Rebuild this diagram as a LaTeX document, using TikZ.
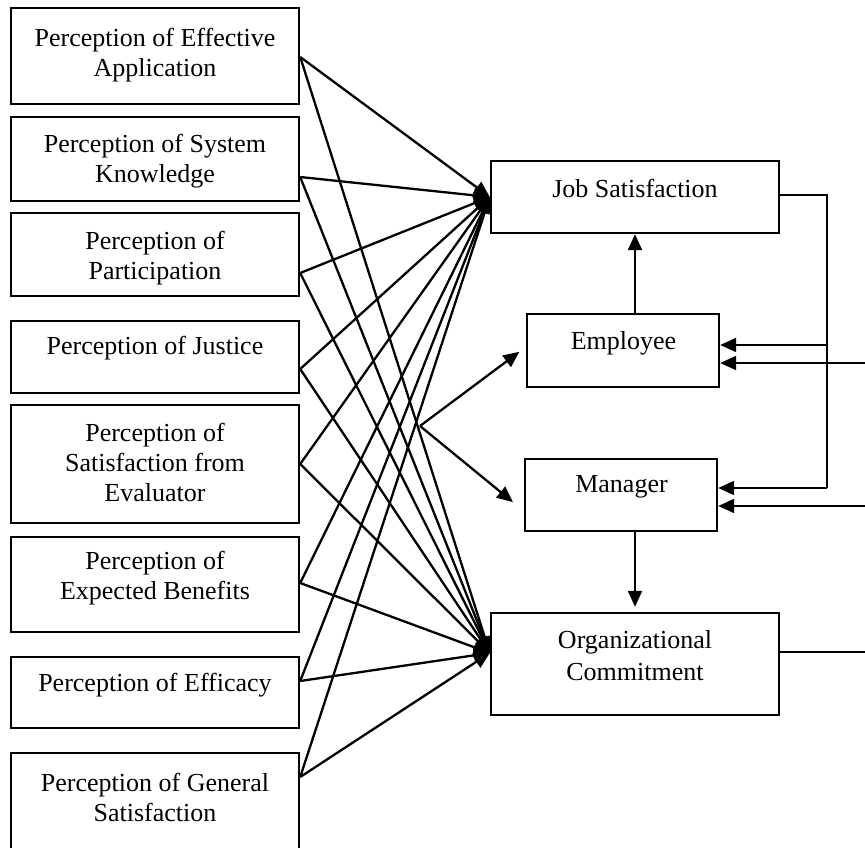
\documentclass[tikz,border=0pt]{standalone}
\usepackage{fontspec}
\setmainfont{Liberation Serif}
\usetikzlibrary{arrows.meta}

\tikzset{
  box/.style={draw, line width=2.4pt, inner sep=0pt},
  link/.style={line width=2.3pt, -{Triangle[length=16pt,width=14pt]}},
  feed/.style={line width=1.8pt},
  feedarrow/.style={line width=2pt, -{Triangle[length=16pt,width=14pt]}},
}

\begin{document}
\begin{tikzpicture}[x=1pt,y=-1pt]
\useasboundingbox (0,0) rectangle (865,848);
\clip (0,0) rectangle (865,848);
\fontsize{26}{30}\selectfont
\lineskiplimit=-20pt

% left boxes
\node[box, minimum width=288pt, minimum height=96pt] (b1) at (155,56) {};
\node[box, minimum width=288pt, minimum height=84pt] (b2) at (155,159) {};
\node[box, minimum width=288pt, minimum height=83pt] (b3) at (155,254.5) {};
\node[box, minimum width=288pt, minimum height=72pt] (b4) at (155,357) {};
\node[box, minimum width=288pt, minimum height=118pt] (b5) at (155,464) {};
\node[box, minimum width=288pt, minimum height=95pt] (b6) at (155,584.5) {};
\node[box, minimum width=288pt, minimum height=71pt] (b7) at (155,692.5) {};
\node[box, minimum width=288pt, minimum height=110pt] (b8) at (155,808) {};

\node[align=center] (t1) at (155,55) {Perception of Effective\\Application};
\node[align=center] (t2) at (155,161) {Perception of System\\Knowledge};
\node[align=center] (t3) at (155,258) {Perception of\\Participation};
\node[align=center] (t4) at (155,348) {Perception of Justice};
\node[align=center] (t5) at (155,462) {Perception of\\Satisfaction from\\Evaluator};
\node[align=center] (t6) at (155,578) {Perception of\\Expected Benefits};
\node[align=center] (t7) at (155,685) {Perception of Efficacy};
\node[align=center] (t8) at (155,797) {Perception of General\\Satisfaction};

% right boxes
\node[box, minimum width=288pt, minimum height=72pt] (js) at (635,197) {};
\node[box, minimum width=192pt, minimum height=73pt] (emp) at (623,350.5) {};
\node[box, minimum width=192pt, minimum height=72pt] (mgr) at (621,495) {};
\node[box, minimum width=288pt, minimum height=102pt] (oc) at (635,664) {};

\node (tjs) at (635,188) {Job Satisfaction};
\node (temp) at (623.5,343) {Employee};
\node (tmgr) at (621.5,487) {Manager};
\node[align=center] (toc) at (635,656) {Organizational\\[2pt]Commitment};

% to job satisfaction
\draw[link] (b1.east |- 0,57) -- (js.west);
\draw[link] (b2.east |- 0,177) -- (js.west);
\draw[link] (b3.east |- 0,273) -- (js.west);
\draw[link] (b4.east |- 0,369) -- (js.west);
\draw[link] (b5.east |- 0,464) -- (js.west);
\draw[link] (b6.east |- 0,583) -- (js.west);
\draw[link] (b7.east |- 0,681) -- (js.west);
\draw[link] (b8.east |- 0,777) -- (js.west);

% to organizational commitment
\coordinate (ocin) at (oc.west |- 0,653);
\draw[link] (b1.east |- 0,57) -- (ocin);
\draw[link] (b2.east |- 0,177) -- (ocin);
\draw[link] (b3.east |- 0,273) -- (ocin);
\draw[link] (b4.east |- 0,369) -- (ocin);
\draw[link] (b5.east |- 0,464) -- (ocin);
\draw[link] (b6.east |- 0,583) -- (ocin);
\draw[link] (b7.east |- 0,681) -- (ocin);
\draw[link] (b8.east |- 0,777) -- (ocin);

% fork
\coordinate (fork) at (420,426);
\draw[link, shorten >=8pt] (fork) -- (emp.west |- 0,347);
\draw[link, shorten >=14pt] (fork) -- (mgr.west |- 0,511);

\draw[link] (js.south |- emp.north) -- (js.south);
\draw[link, shorten >=5pt] (oc.north |- mgr.south) -- (oc.north);

% feedback on the right
\coordinate (busA) at (827,345);
\coordinate (busB) at (827,488);
\draw[feed] (js.east |- 0,195) -| (busB);
\draw[feedarrow] (busA) -- (busA -| emp.east);
\draw[feedarrow] (busB) -- (busB -| mgr.east);

\coordinate (edgeA) at (865,363);
\coordinate (edgeB) at (865,506);
\coordinate (edgeC) at (865,652);
\draw[feedarrow] (edgeA) -- (edgeA -| emp.east);
\draw[feedarrow] (edgeB) -- (edgeB -| mgr.east);
\draw[feed] (oc.east |- edgeC) -- (edgeC);
\end{tikzpicture}
\end{document}
